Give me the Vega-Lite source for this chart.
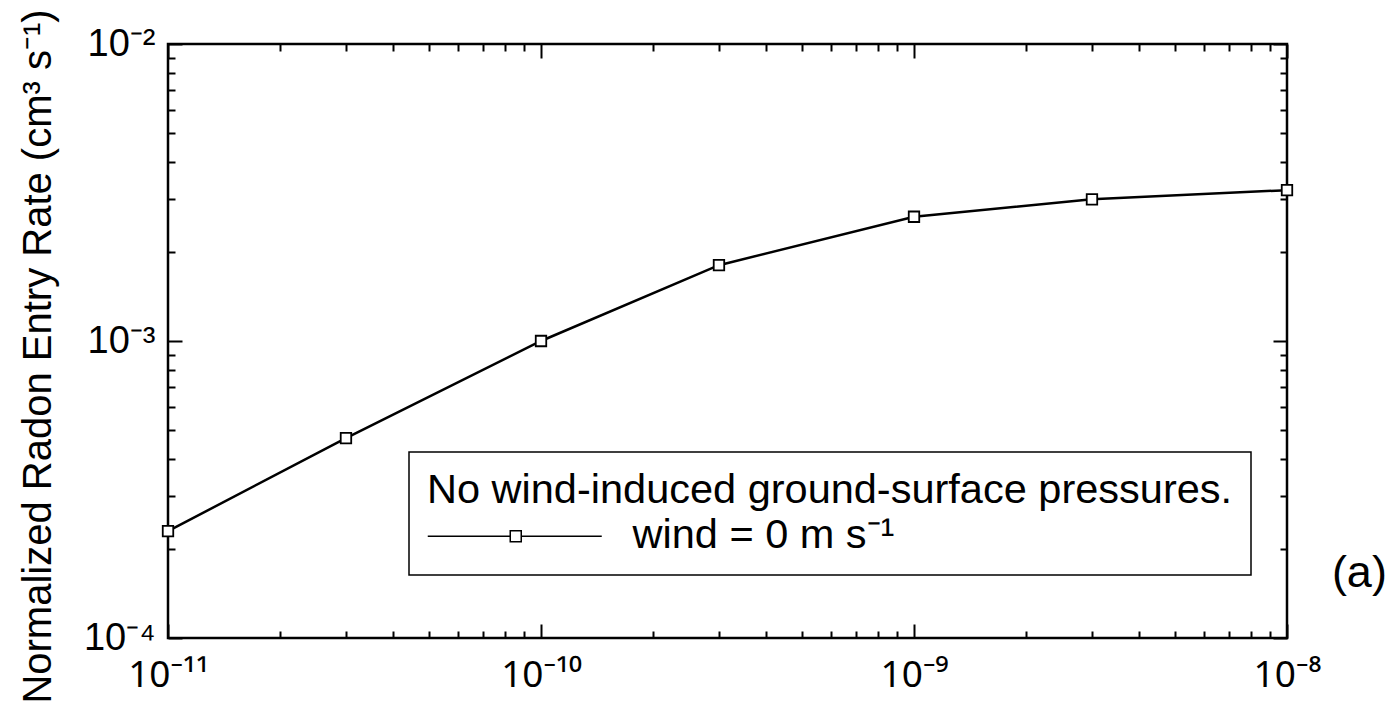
{
  "$schema": "https://vega.github.io/schema/vega-lite/v6.json",
  "width": 1119,
  "height": 594,
  "autosize": {"type": "none"},
  "padding": {"left": 168, "top": 44, "right": 110, "bottom": 76},
  "background": "white",
  "config": {
    "font": "Liberation Sans",
    "view": {"stroke": "black", "strokeWidth": 2.5},
    "axis": {
      "domain": false,
      "grid": false,
      "labelFont": "Noto Sans",
      "labelColor": "black",
      "labelFontSize": 37,
      "labelOverlap": false,
      "labelFlush": false,
      "tickColor": "black",
      "tickWidth": 2,
      "titleFont": "Liberation Sans",
      "titleColor": "black",
      "titleFontWeight": "normal"
    }
  },
  "title": {
    "text": "(a)",
    "orient": "right",
    "anchor": "end",
    "frame": "group",
    "angle": 0,
    "align": "left",
    "baseline": "middle",
    "offset": -19,
    "dx": -25,
    "dy": -65,
    "fontSize": 45,
    "fontWeight": "normal",
    "font": "Liberation Sans",
    "color": "black"
  },
  "data": {
    "values": [
      {"k": 1e-11, "rate": 0.000229, "series": "wind = 0 m s⁻¹"},
      {"k": 3e-11, "rate": 0.000471, "series": "wind = 0 m s⁻¹"},
      {"k": 1e-10, "rate": 0.00100, "series": "wind = 0 m s⁻¹"},
      {"k": 3e-10, "rate": 0.00180, "series": "wind = 0 m s⁻¹"},
      {"k": 1e-9, "rate": 0.00262, "series": "wind = 0 m s⁻¹"},
      {"k": 3e-9, "rate": 0.00300, "series": "wind = 0 m s⁻¹"},
      {"k": 1e-8, "rate": 0.00322, "series": "wind = 0 m s⁻¹"}
    ]
  },
  "layer": [
    {
      "mark": {"type": "line", "strokeWidth": 2.5},
      "encoding": {
        "x": {
          "field": "k",
          "type": "quantitative",
          "scale": {"type": "log", "domain": [1e-11, 1e-8], "nice": false},
          "axis": {
            "orient": "bottom",
            "title": null,
            "labelPadding": 33,
            "labelExpr": "abs(datum.value/1e-11-1)<1e-6 ? '10⁻¹¹' : abs(datum.value/1e-10-1)<1e-6 ? '10⁻¹⁰' : abs(datum.value/1e-9-1)<1e-6 ? '10⁻⁹' : abs(datum.value/1e-8-1)<1e-6 ? '10⁻⁸' : ''",
            "tickSize": {"condition": {"test": "abs(log(datum.value)/LN10 - round(log(datum.value)/LN10)) < 1e-6", "value": -14}, "value": -7}
          }
        },
        "y": {
          "field": "rate",
          "type": "quantitative",
          "scale": {"type": "log", "domain": [0.0001, 0.01], "nice": false},
          "axis": {
            "orient": "left",
            "title": "Normalized Radon Entry Rate (cm³ s⁻¹)",
            "titleFontSize": 40,
            "titleX": -118,
            "titleY": 312,
            "titleAngle": 270,
            "titleAlign": "center",
            "titleBaseline": "alphabetic",
            "labelFont": "Liberation Sans",
            "labelFontSize": 38,
            "labelPadding": 27,
            "labelExpr": "abs(datum.value/1e-4-1)<1e-6 ? '10⁻⁴' : abs(datum.value/1e-3-1)<1e-6 ? '10⁻³' : abs(datum.value/1e-2-1)<1e-6 ? '10⁻²' : ''",
            "tickSize": {"condition": {"test": "abs(log(datum.value)/LN10 - round(log(datum.value)/LN10)) < 1e-6", "value": -14}, "value": -7}
          }
        },
        "color": {
          "field": "series",
          "type": "nominal",
          "scale": {"range": ["black"]},
          "legend": {
            "orient": "none",
            "legendX": 241,
            "legendY": 408,
            "title": "No wind-induced ground-surface pressures.",
            "titleFont": "Liberation Sans",
            "titleFontSize": 41.5,
            "titleFontWeight": "normal",
            "titleColor": "black",
            "titleLimit": 2000,
            "titlePadding": 4,
            "labelFont": "Liberation Sans",
            "labelFontSize": 41.5,
            "labelColor": "black",
            "labelLimit": 1000,
            "labelOffset": 164,
            "padding": 18,
            "strokeColor": "black",
            "fillColor": "white",
            "symbolType": "M-2.0,0H6.25M7.35,0H15.4M6.25,-0.55H7.35V0.55H6.25Z",
            "symbolSize": 400,
            "symbolStrokeWidth": 1.5,
            "symbolStrokeColor": "black",
            "symbolFillColor": "white",
            "encode": {
              "symbols": {"update": {"fill": {"value": "white"}, "stroke": {"value": "black"}, "strokeWidth": {"value": 1.5}}},
              "legend": {"update": {"strokeWidth": {"value": 1.5}}}
            }
          }
        }
      }
    },
    {
      "mark": {"type": "point", "shape": "square", "size": 110, "filled": true, "fill": "white", "stroke": "black", "strokeWidth": 1.8, "opacity": 1},
      "encoding": {
        "x": {
          "field": "k",
          "type": "quantitative",
          "axis": {
            "orient": "top",
            "title": null,
            "labels": false,
            "tickSize": {"condition": {"test": "abs(log(datum.value)/LN10 - round(log(datum.value)/LN10)) < 1e-6", "value": -14}, "value": -7}
          }
        },
        "y": {
          "field": "rate",
          "type": "quantitative",
          "axis": {
            "orient": "right",
            "title": null,
            "labels": false,
            "tickSize": {"condition": {"test": "abs(log(datum.value)/LN10 - round(log(datum.value)/LN10)) < 1e-6", "value": -14}, "value": -7}
          }
        }
      }
    }
  ],
  "resolve": {"axis": {"x": "independent", "y": "independent"}}
}
